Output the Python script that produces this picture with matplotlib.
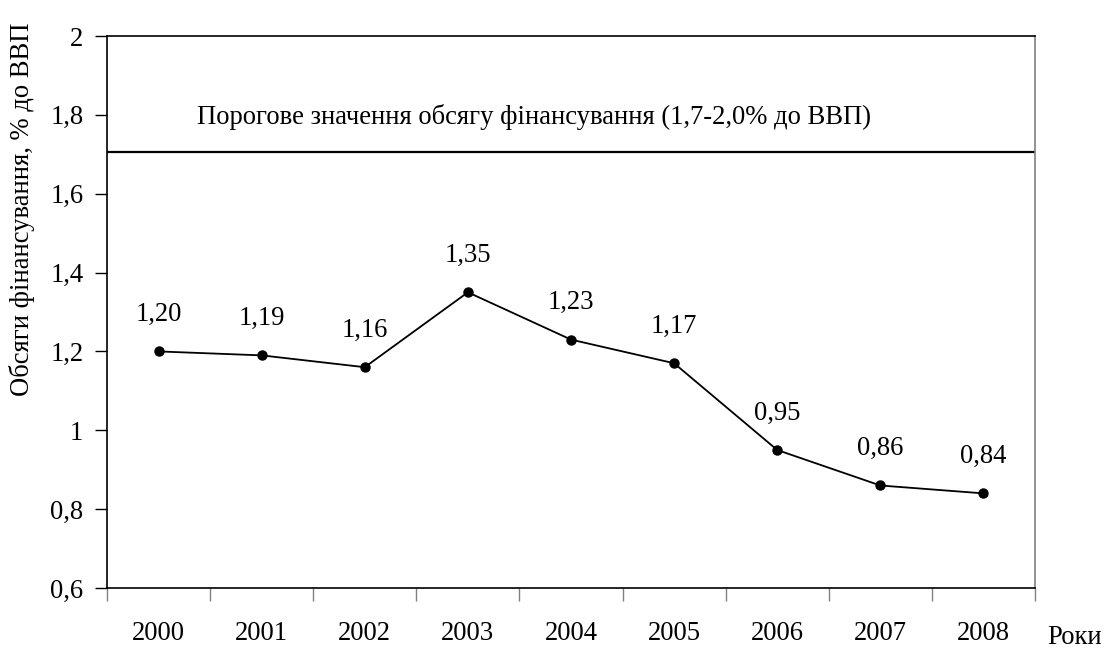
import matplotlib
matplotlib.use("Agg")
import matplotlib.pyplot as plt
import numpy as np

years = ["2000", "2001", "2002", "2003", "2004", "2005", "2006", "2007", "2008"]
values = [1.20, 1.19, 1.16, 1.35, 1.23, 1.17, 0.95, 0.86, 0.84]
value_labels = ["1,20", "1,19", "1,16", "1,35", "1,23", "1,17", "0,95", "0,86", "0,84"]
threshold = 1.705
threshold_text = "Порогове значення обсягу фінансування (1,7-2,0% до ВВП)"
y_ticks = [0.6, 0.8, 1.0, 1.2, 1.4, 1.6, 1.8, 2.0]
y_tick_labels = ["0,6", "0,8", "1", "1,2", "1,4", "1,6", "1,8", "2"]
y_label = "Обсяги фінансування, % до ВВП"
x_label = "Роки"

plt.rcParams['font.family'] = ['Liberation Serif', 'DejaVu Serif']
FS = 19.2

fig = plt.figure(figsize=(11.12, 6.5), dpi=100)
ax = fig.add_axes([107/1112, 1-588/650, (1035-107)/1112, (588-36)/650])

x = np.arange(len(years))
ax.plot(x, values, color='black', lw=1.3, marker='o', markersize=6.5, zorder=3)
for xi, v, lab in zip(x, values, value_labels):
    ax.annotate(lab, (xi, v), xytext=(0, 26.5), textcoords='offset points',
                ha='center', va='center', fontsize=FS)

ax.axhline(threshold, color='black', lw=1.6)
ax.text(3.64, 1.795, threshold_text, ha='center', va='center', fontsize=FS)

ax.set_xlim(-0.5, len(years) - 0.5)
ax.set_ylim(0.6, 2.0)
ax.set_yticks(y_ticks)
ax.set_yticklabels(y_tick_labels, fontsize=FS)
ax.tick_params(axis='y', direction='out', length=9, width=1, pad=8, colors='black')

ax.set_xticks(np.arange(len(years) + 1) - 0.5)
ax.set_xticklabels([])
ax.tick_params(axis='x', which='major', direction='out', length=9, width=1, color='#808080')
ax.set_xticks(x, minor=True)
ax.set_xticklabels(years, minor=True, fontsize=FS)
ax.tick_params(axis='x', which='minor', length=0, pad=24)

for s in ['left', 'bottom', 'top']:
    ax.spines[s].set_color('black')
    ax.spines[s].set_linewidth(1.2)
ax.spines['right'].set_color('#808080')
ax.spines['right'].set_linewidth(1.2)

fig.text(1075/1112, 1-638/650, x_label, ha='center', va='center', fontsize=FS)
fig.text(22/1112, 1-396/650, y_label, rotation=90, ha='center', va='bottom', fontsize=FS)

fig.savefig("out.png", dpi=100)
